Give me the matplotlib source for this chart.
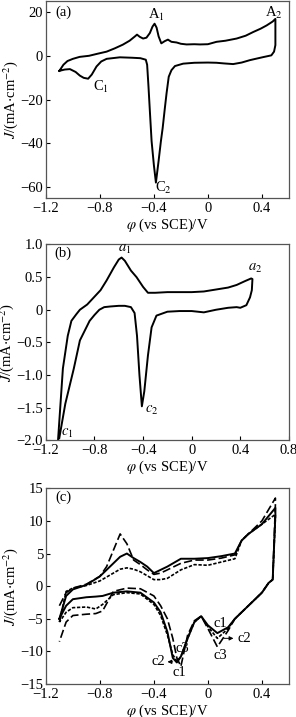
import numpy as np
import matplotlib
matplotlib.use("Agg")
import matplotlib.pyplot as plt

plt.rcParams['font.family'] = 'serif'
plt.rcParams['font.serif'] = ['Liberation Serif']
plt.rcParams['mathtext.fontset'] = 'stix'
plt.rcParams['font.size'] = 10.5

# ---- panel (a): CV loop ----
a_x = [-1.1, -1.07, -1.04, -1.0, -0.95, -0.88, -0.82, -0.75, -0.69, -0.63, -0.58, -0.54, -0.525,
       -0.505, -0.48, -0.455, -0.43, -0.41, -0.395, -0.38, -0.365, -0.345, -0.32, -0.296, -0.27,
       -0.232, -0.2, -0.158, -0.1, -0.059, 0.0, 0.064, 0.13, 0.213, 0.28, 0.336, 0.39, 0.435, 0.48, 0.5,
       0.5, 0.5, 0.49, 0.47, 0.41, 0.36, 0.311, 0.25, 0.187, 0.12, 0.064, 0.0, -0.1, -0.183, -0.244,
       -0.27, -0.29, -0.306, -0.319, -0.335, -0.348, -0.365, -0.385, -0.4, -0.417, -0.43, -0.44, -0.45,
       -0.46, -0.5, -0.56, -0.652, -0.75, -0.79, -0.825, -0.86, -0.887, -0.92, -0.948, -0.98, -1.022,
       -1.06, -1.1]
a_y = [-6.8, -4.0, -2.3, -1.3, -0.4, 0.1, 1.0, 2.0, 3.5, 5.2, 7.0, 9.0, 9.8,
       8.8, 8.0, 8.4, 10.5, 13.5, 14.8, 13.0, 9.0, 5.8, 6.8, 7.5, 6.5,
       6.2, 5.6, 5.3, 5.4, 5.3, 5.4, 6.5, 7.0, 8.0, 9.3, 11.0, 12.5, 14.0, 15.8, 17.0,
       12.0, 5.0, 2.0, 0.3, -0.5, -1.2, -1.9, -3.0, -3.7, -3.4, -3.1, -3.0, -3.1, -3.5, -4.6,
       -6.5, -9.5, -17.0, -24.0, -33.0, -39.0, -48.0, -58.0, -50.0, -39.0, -25.0, -14.0, -4.0,
       -1.7, -1.0, -0.8, -0.6, -1.3, -2.5, -4.8, -8.5, -10.4, -10.0, -9.0, -7.3, -6.0,
       -6.2, -6.8]

# ---- panel (b): CV loop ----
b_x = [-1.1, -1.06, -1.02, -0.99, -0.95, -0.92, -0.86, -0.81, -0.75, -0.7, -0.64, -0.6, -0.577,
       -0.55, -0.5, -0.454, -0.4, -0.36, -0.3, -0.2, 0.0, 0.1, 0.2, 0.3, 0.37, 0.44, 0.49, 0.5,
       0.495, 0.48, 0.45, 0.4, 0.37, 0.3, 0.2, 0.1, 0.0, -0.1, -0.2, -0.29, -0.33, -0.36, -0.39,
       -0.41, -0.43, -0.45, -0.47, -0.5, -0.55, -0.6, -0.67, -0.72, -0.76, -0.8, -0.84, -0.88,
       -0.92, -0.97, -1.04, -1.09]
b_y = [-2.0, -0.9, -0.4, -0.17, -0.07, 0.0, 0.08, 0.18, 0.3, 0.45, 0.65, 0.77, 0.8,
       0.75, 0.6, 0.5, 0.35, 0.26, 0.26, 0.27, 0.27, 0.28, 0.31, 0.34, 0.38, 0.44, 0.48, 0.47,
       0.3, 0.19, 0.07, 0.03, 0.04, 0.03, 0.0, -0.04, -0.02, -0.02, -0.03, -0.09, -0.27, -0.7, -1.25,
       -1.48, -1.0, -0.4, -0.05, 0.04, 0.06, 0.06, 0.05, 0.04, 0.0, -0.08, -0.17, -0.32,
       -0.47, -0.9, -1.44, -1.97]

# ---- panel (c): three CV loops ----
c_x = [-1.1, -1.05, -1.0, -0.9, -0.8, -0.75, -0.7, -0.65, -0.6, -0.55, -0.5, -0.45, -0.4, -0.35,
       -0.3, -0.2, -0.1, 0.0, 0.1, 0.2, 0.25, 0.3, 0.4, 0.5,
       0.5, 0.48, 0.45, 0.4, 0.3, 0.2, 0.15, 0.07, 0.0, -0.05, -0.1, -0.15, -0.2, -0.23, -0.26,
       -0.3, -0.35, -0.4, -0.5, -0.6, -0.7, -0.78, -0.83, -0.9, -1.0, -1.05, -1.1]
c1_y = [-5.0, -1.5, -0.5, 0.2, 1.5, 2.5, 3.5, 4.5, 5.0, 4.3, 3.7, 3.0, 2.0, 2.5,
        3.0, 4.2, 4.2, 4.3, 4.6, 5.0, 7.0, 8.0, 9.5, 12.0,
        11.0, 1.0, 0.5, -1.0, -3.0, -5.0, -6.3, -7.2, -6.0, -4.6, -5.5, -8.0, -10.8, -11.7, -11.0,
        -7.0, -4.0, -2.5, -1.0, -0.8, -1.0, -1.5, -1.6, -1.7, -2.0, -3.0, -5.0]
c2_y = [-5.5, -0.8, -0.3, 0.1, 0.8, 1.4, 2.0, 2.6, 2.8, 2.6, 2.2, 1.6, 1.0, 1.0,
        1.2, 2.5, 3.3, 3.2, 3.7, 4.2, 7.0, 8.0, 9.5, 11.0,
        10.5, 1.0, 0.5, -1.0, -3.0, -5.0, -6.5, -8.0, -6.2, -4.6, -5.5, -8.0, -10.8, -11.5, -10.5,
        -7.5, -4.5, -2.8, -1.2, -1.0, -1.3, -2.8, -3.5, -3.2, -3.3, -4.0, -5.5]
c3_y = [-3.0, -1.0, -0.3, 0.3, 1.5, 3.0, 5.5, 8.0, 6.5, 4.0, 3.3, 2.5, 1.8, 2.0,
        2.5, 3.5, 4.0, 4.0, 4.3, 4.8, 7.0, 8.0, 10.0, 13.5,
        12.5, 1.0, 0.5, -1.0, -3.0, -5.0, -6.8, -9.3, -6.5, -4.6, -5.3, -7.5, -12.3, -11.0, -8.0,
        -5.0, -3.0, -1.5, -0.4, -0.3, -0.8, -3.8, -4.2, -4.3, -4.5, -5.5, -8.5]

fig = plt.figure(figsize=(2.96, 7.17), dpi=100)
ax1 = fig.add_axes([0.155, 0.724, 0.821, 0.274])
ax2 = fig.add_axes([0.155, 0.386, 0.821, 0.273])
ax3 = fig.add_axes([0.155, 0.046, 0.821, 0.273])

lw = 1.4
ax1.plot(a_x, a_y, color='black', lw=lw)
ax2.plot(b_x, b_y, color='black', lw=lw)
ax3.plot(c_x, c1_y, color='black', lw=lw)
ax3.plot(c_x, c2_y, color='black', lw=1.2, ls=(0, (2, 1)))
ax3.plot(c_x, c3_y, color='black', lw=1.2, ls=(0, (5, 2)))

ax1.set_xlim(-1.2, 0.6)
ax1.set_ylim(-65, 25)
ax1.set_xticks([-1.2, -0.8, -0.4, 0, 0.4])
ax1.set_xticklabels(['\u22121.2', '\u22120.8', '\u22120.4', '0', '0.4'])
ax1.set_yticks([-60, -40, -20, 0, 20])
ax1.set_yticklabels(['\u221260', '\u221240', '\u221220', '0', '20'])

ax2.set_xlim(-1.2, 0.8)
ax2.set_ylim(-2.0, 1.0)
ax2.set_xticks([-1.2, -0.8, -0.4, 0, 0.4, 0.8])
ax2.set_xticklabels(['\u22121.2', '\u22120.8', '\u22120.4', '0', '0.4', '0.8'])
ax2.set_yticks([-2.0, -1.5, -1.0, -0.5, 0, 0.5, 1.0])
ax2.set_yticklabels(['\u22122.0', '\u22121.5', '\u22121.0', '\u22120.5', '0', '0.5', '1.0'])

ax3.set_xlim(-1.2, 0.6)
ax3.set_ylim(-15, 15)
ax3.set_xticks([-1.2, -0.8, -0.4, 0, 0.4])
ax3.set_xticklabels(['\u22121.2', '\u22120.8', '\u22120.4', '0', '0.4'])
ax3.set_yticks([-15, -10, -5, 0, 5, 10, 15])
ax3.set_yticklabels(['\u221215', '\u221210', '\u22125', '0', '5', '10', '15'])

for ax in (ax1, ax2, ax3):
    ax.tick_params(direction='in', length=3, width=0.8, pad=2)
    ax.tick_params(axis='x', pad=3)
    for s in ax.spines.values():
        s.set_color('#555555')
        s.set_linewidth(0.9)
    ax.set_xlabel(r'$\varphi$ (vs SCE)/V', labelpad=1)
    ax.set_ylabel(r'$J$/(mA$\cdot$cm$^{-2}$)', labelpad=0)

# annotations
ax1.text(-1.13, 20, '(a)', ha='left', va='center')
ax1.text(-0.38, 19, r'A$_1$', ha='center', va='center')
ax1.text(0.49, 19.5, r'A$_2$', ha='center', va='center')
ax1.text(-0.79, -14, r'C$_1$', ha='center', va='center')
ax1.text(-0.33, -60.5, r'C$_2$', ha='center', va='center')

ax2.text(-1.13, 0.86, '(b)', ha='left', va='center')
ax2.text(-0.55, 0.92, r'$a_1$', ha='center', va='center')
ax2.text(0.52, 0.63, r'$a_2$', ha='center', va='center')
ax2.text(-0.33, -1.55, r'$c_2$', ha='center', va='center')
ax2.text(-1.02, -1.9, r'$c_1$', ha='center', va='center')

ax3.text(-1.13, 13.6, '(c)', ha='left', va='center')
ax3.text(0.09, -5.8, 'c1', ha='center', va='center')
ax3.text(0.27, -8.1, 'c2', ha='center', va='center')
ax3.text(0.09, -10.6, 'c3', ha='center', va='center')
ax3.text(-0.19, -9.5, 'c3', ha='center', va='center')
ax3.text(-0.37, -11.6, 'c2', ha='center', va='center')
ax3.text(-0.21, -13.2, 'c1', ha='center', va='center')
ax3.annotate('', xy=(0.21, -8.0), xytext=(0.1, -8.0),
             arrowprops=dict(arrowstyle='-|>', lw=0.7, color='black', mutation_scale=6))
ax3.annotate('', xy=(-0.32, -11.6), xytext=(-0.24, -11.6),
             arrowprops=dict(arrowstyle='-|>', lw=0.7, color='black', mutation_scale=6))

fig.savefig('out.png', dpi=100)
